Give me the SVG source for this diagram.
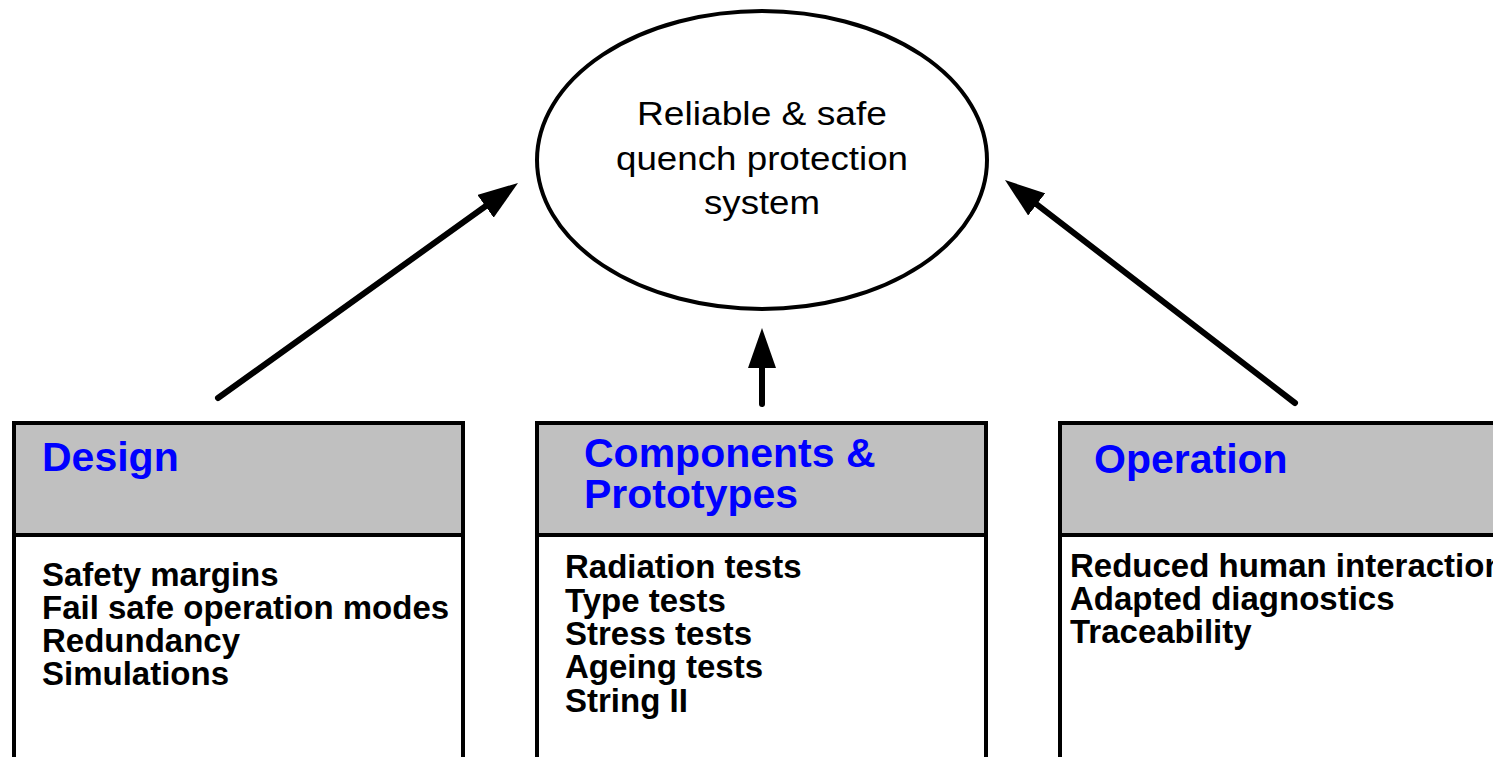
<svg xmlns="http://www.w3.org/2000/svg" width="1493" height="757" viewBox="0 0 1493 757">
<style>
.box{stroke:#000;stroke-width:4}
.hdr{fill:#c0c0c0}
.bdy{fill:#fff}
.ht{font-family:"Liberation Sans",Arial,sans-serif;font-weight:bold;font-size:41px;fill:#0000ff}
.bt{font-family:"Liberation Sans",Arial,sans-serif;font-weight:bold;font-size:33px;fill:#000}
.et{font-family:"Liberation Sans",Arial,sans-serif;font-size:33px;fill:#000;text-anchor:middle}
.conn{fill:none;stroke:#000;stroke-width:6;stroke-linecap:round}
</style>
<defs>
<marker id="ah" markerUnits="userSpaceOnUse" viewBox="0 0 40 28" refX="0" refY="14" markerWidth="40" markerHeight="28" orient="auto">
<path d="M0,0 L40,14 L0,28 z" fill="#000"/>
</marker>
</defs>
<rect width="1493" height="757" fill="#fff"/>
<g id="goal">
<ellipse cx="762" cy="160" rx="225" ry="149" fill="#fff" stroke="#000" stroke-width="4"/>
<text class="et" x="762" y="125" textLength="250" lengthAdjust="spacingAndGlyphs">Reliable &amp; safe</text>
<text class="et" x="762" y="170" textLength="292" lengthAdjust="spacingAndGlyphs">quench protection</text>
<text class="et" x="762" y="214" textLength="116" lengthAdjust="spacingAndGlyphs">system</text>
</g>
<g id="connectors">
<path class="conn" d="M218,398 L485.5,206.3" marker-end="url(#ah)"/>
<path class="conn" d="M762,404 L762,368" marker-end="url(#ah)"/>
<path class="conn" d="M1295,403 L1036.7,204.4" marker-end="url(#ah)"/>
</g>
<g id="design">
<rect class="box bdy" x="14" y="535" width="449" height="240"/>
<rect class="box hdr" x="14" y="423" width="449" height="112"/>
<text class="ht" x="42" y="471">Design</text>
<text class="bt" x="42" y="586">Safety margins</text>
<text class="bt" x="42" y="619">Fail safe operation modes</text>
<text class="bt" x="42" y="652">Redundancy</text>
<text class="bt" x="42" y="685">Simulations</text>
</g>
<g id="components">
<rect class="box bdy" x="537" y="535" width="449" height="240"/>
<rect class="box hdr" x="537" y="423" width="449" height="112"/>
<text class="ht" x="584" y="467">Components &amp;</text>
<text class="ht" x="584" y="508">Prototypes</text>
<text class="bt" x="565" y="578">Radiation tests</text>
<text class="bt" x="565" y="612">Type tests</text>
<text class="bt" x="565" y="645">Stress tests</text>
<text class="bt" x="565" y="678">Ageing tests</text>
<text class="bt" x="565" y="712">String II</text>
</g>
<g id="operation">
<rect class="box bdy" x="1060" y="535" width="449" height="240"/>
<rect class="box hdr" x="1060" y="423" width="449" height="112"/>
<text class="ht" x="1094" y="473">Operation</text>
<text class="bt" x="1070" y="577">Reduced human interaction</text>
<text class="bt" x="1070" y="610">Adapted diagnostics</text>
<text class="bt" x="1070" y="643">Traceability</text>
</g>
</svg>
